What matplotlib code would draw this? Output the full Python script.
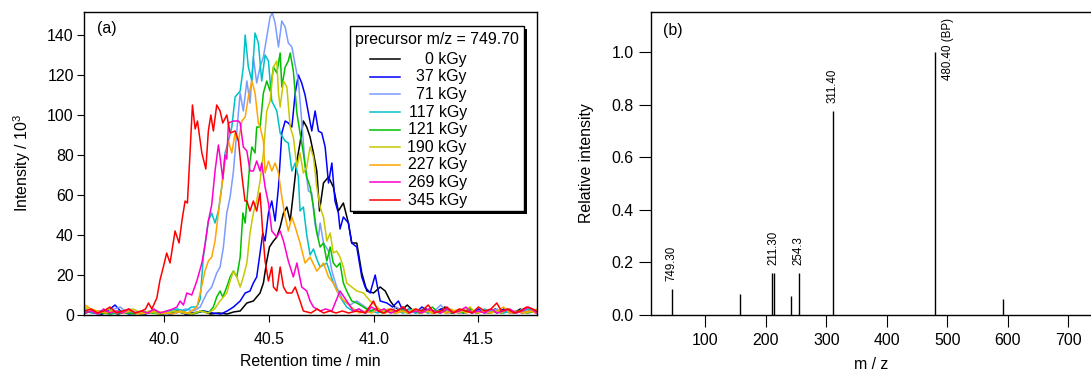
import numpy as np
import matplotlib
matplotlib.use('Agg')
from matplotlib import pyplot as plt
from matplotlib.patches import Rectangle

plt.rcParams['font.family'] = ['Liberation Sans', 'DejaVu Sans']
plt.rcParams['mathtext.fontset'] = 'custom'
plt.rcParams['mathtext.rm'] = 'Liberation Sans'

# (a) extracted ion chromatograms, precursor m/z 749.70: (retention time / min, intensity / 10^3)
k0 = [(39.62, 1), (39.66, 2), (39.70, 0.5), (39.74, 1.5), (39.78, 0.5), (39.82, 2), (39.86, 1), (39.90, 0.5),
      (39.94, 1.5), (39.98, 0.5), (40.02, 1), (40.06, 2), (40.10, 0.5), (40.14, 1), (40.18, 2), (40.22, 0.5),
      (40.26, 1), (40.30, 0.5), (40.33, 1.5), (40.362, 2), (40.394, 6), (40.425, 7), (40.457, 11), (40.473, 16),
      (40.489, 27), (40.502, 34), (40.521, 37), (40.537, 39), (40.553, 44), (40.569, 51), (40.585, 54),
      (40.601, 47), (40.616, 61), (40.633, 77), (40.648, 86), (40.664, 97), (40.680, 94), (40.696, 89),
      (40.712, 81), (40.728, 72), (40.741, 52), (40.760, 66), (40.784, 69), (40.807, 64), (40.831, 52),
      (40.855, 56), (40.879, 46), (40.895, 36), (40.919, 36), (40.943, 21), (40.967, 12), (40.999, 11),
      (41.031, 14), (41.055, 12), (41.079, 7), (41.10, 4), (41.13, 2), (41.16, 5), (41.19, 2), (41.22, 1),
      (41.25, 3), (41.28, 1), (41.31, 2), (41.34, 4), (41.37, 1), (41.40, 2), (41.43, 1), (41.46, 3), (41.49, 1),
      (41.52, 2), (41.55, 1), (41.58, 3), (41.61, 1), (41.64, 2), (41.67, 1), (41.70, 3), (41.73, 1), (41.76, 2),
      (41.78, 1)]
k37 = [(39.62, 2), (39.66, 1), (39.70, 0.5), (39.73, 2), (39.764, 5), (39.79, 2), (39.83, 0.5), (39.87, 1),
       (39.91, 0.5), (39.95, 2), (39.99, 1), (40.03, 0.5), (40.07, 1.5), (40.11, 0.5), (40.15, 1), (40.19, 2),
       (40.23, 1), (40.27, 0.5), (40.30, 2), (40.330, 4), (40.362, 7), (40.386, 11), (40.409, 12), (40.425, 16),
       (40.441, 19), (40.457, 31), (40.470, 41), (40.481, 37), (40.497, 51), (40.513, 57), (40.529, 47),
       (40.545, 64), (40.561, 91), (40.577, 97), (40.592, 96), (40.609, 94), (40.625, 111), (40.640, 120),
       (40.656, 116), (40.672, 110), (40.688, 101), (40.704, 92), (40.720, 102), (40.736, 92), (40.752, 91),
       (40.768, 84), (40.784, 66), (40.800, 76), (40.815, 57), (40.831, 51), (40.839, 43), (40.855, 49),
       (40.879, 46), (40.895, 36), (40.919, 34), (40.943, 19), (40.959, 14), (40.983, 11), (41.007, 20),
       (41.031, 7), (41.063, 6), (41.09, 4), (41.118, 7), (41.14, 2), (41.17, 3), (41.20, 1), (41.23, 4),
       (41.26, 2), (41.29, 1), (41.32, 3), (41.35, 1), (41.38, 2), (41.41, 1), (41.44, 2), (41.47, 1), (41.50, 3),
       (41.53, 1), (41.56, 2), (41.59, 1), (41.62, 3), (41.65, 1), (41.68, 2), (41.71, 1), (41.74, 2), (41.78, 1)]
k71 = [(39.62, 3), (39.65, 1), (39.69, 2), (39.72, 1), (39.76, 3), (39.79, 4), (39.82, 1), (39.86, 2), (39.90, 1),
       (39.94, 2), (39.98, 0.5), (40.02, 2), (40.06, 1), (40.10, 3), (40.14, 2), (40.171, 4), (40.203, 11),
       (40.226, 14), (40.250, 21), (40.266, 24), (40.282, 34), (40.298, 51), (40.314, 59), (40.330, 72),
       (40.346, 92), (40.362, 111), (40.377, 102), (40.394, 117), (40.409, 106), (40.425, 129), (40.441, 116),
       (40.457, 124), (40.473, 129), (40.489, 139), (40.505, 149), (40.516, 151), (40.529, 146), (40.545, 134),
       (40.561, 147), (40.577, 144), (40.592, 136), (40.609, 134), (40.625, 125), (40.640, 117), (40.656, 97),
       (40.672, 75), (40.688, 62), (40.704, 61), (40.720, 45), (40.736, 39), (40.744, 46), (40.760, 36),
       (40.784, 32), (40.800, 22), (40.823, 14), (40.855, 7), (40.887, 5), (40.919, 7), (40.959, 4), (40.99, 2),
       (41.02, 3), (41.05, 1), (41.08, 2), (41.11, 4), (41.14, 1), (41.17, 2), (41.20, 1), (41.23, 3), (41.26, 1),
       (41.29, 2), (41.32, 5), (41.35, 1), (41.38, 2), (41.41, 1), (41.44, 3), (41.47, 1), (41.50, 2), (41.53, 1),
       (41.56, 2), (41.59, 3), (41.62, 1), (41.65, 2), (41.68, 1), (41.71, 3), (41.74, 1), (41.78, 2)]
k117 = [(39.62, 2), (39.66, 1), (39.70, 2), (39.74, 0.5), (39.78, 1), (39.82, 2), (39.86, 1), (39.90, 0.5),
        (39.94, 2), (39.98, 1), (40.02, 2), (40.06, 3), (40.10, 2), (40.13, 4), (40.155, 4), (40.171, 8),
        (40.186, 29), (40.210, 47), (40.226, 51), (40.242, 46), (40.258, 52), (40.274, 64), (40.290, 81),
        (40.306, 87), (40.322, 94), (40.338, 109), (40.362, 112), (40.377, 124), (40.386, 140), (40.401, 124),
        (40.418, 117), (40.433, 141), (40.449, 136), (40.465, 117), (40.481, 130), (40.497, 127), (40.513, 107),
        (40.537, 102), (40.553, 91), (40.577, 87), (40.592, 86), (40.609, 72), (40.625, 76), (40.640, 69),
        (40.648, 52), (40.664, 54), (40.680, 40), (40.696, 30), (40.712, 33), (40.728, 28), (40.744, 24),
        (40.776, 26), (40.807, 16), (40.839, 9), (40.871, 4), (40.90, 2), (40.93, 3), (40.96, 1), (40.99, 2),
        (41.02, 1), (41.05, 3), (41.08, 1), (41.11, 2), (41.14, 1), (41.17, 3), (41.20, 1), (41.23, 2), (41.26, 1),
        (41.29, 2), (41.32, 1), (41.35, 3), (41.38, 1), (41.41, 2), (41.44, 1), (41.47, 2), (41.50, 1), (41.53, 3),
        (41.56, 1), (41.59, 2), (41.62, 1), (41.65, 2), (41.68, 1), (41.71, 2), (41.74, 3), (41.78, 1)]
k121 = [(39.62, 1), (39.66, 2), (39.70, 1), (39.74, 0.5), (39.78, 2), (39.82, 1), (39.86, 0.5), (39.90, 2),
        (39.94, 1), (39.98, 0.5), (40.02, 1), (40.06, 2), (40.10, 1), (40.14, 0.5), (40.18, 2), (40.21, 1),
        (40.234, 4), (40.250, 9), (40.266, 12), (40.279, 9), (40.298, 14), (40.314, 19), (40.330, 22),
        (40.346, 19), (40.362, 29), (40.375, 51), (40.386, 46), (40.394, 57), (40.409, 77), (40.418, 84),
        (40.433, 81), (40.441, 94), (40.457, 94), (40.473, 111), (40.489, 117), (40.505, 112), (40.521, 124),
        (40.537, 121), (40.553, 131), (40.561, 114), (40.577, 124), (40.592, 127), (40.601, 131), (40.616, 122),
        (40.633, 101), (40.648, 91), (40.664, 81), (40.680, 69), (40.696, 64), (40.712, 54), (40.728, 41),
        (40.744, 34), (40.760, 36), (40.776, 27), (40.792, 34), (40.807, 26), (40.823, 24), (40.839, 26),
        (40.855, 16), (40.871, 12), (40.895, 7), (40.919, 6), (40.951, 4), (40.98, 2), (41.01, 3), (41.04, 1),
        (41.07, 2), (41.10, 1), (41.13, 3), (41.16, 1), (41.19, 2), (41.22, 1), (41.25, 2), (41.28, 4), (41.31, 1),
        (41.34, 2), (41.37, 1), (41.40, 2), (41.43, 1), (41.46, 3), (41.49, 1), (41.52, 2), (41.55, 1), (41.58, 2),
        (41.61, 1), (41.64, 3), (41.67, 1), (41.70, 2), (41.73, 1), (41.78, 2)]
k190 = [(39.62, 4), (39.65, 2), (39.69, 1), (39.73, 3), (39.77, 1), (39.81, 2), (39.85, 3), (39.89, 1), (39.93, 2),
        (39.97, 0.5), (40.01, 1), (40.05, 2), (40.09, 1), (40.13, 0.5), (40.17, 2), (40.21, 1), (40.24, 3),
        (40.266, 7), (40.298, 11), (40.314, 17), (40.330, 22), (40.346, 19), (40.362, 14), (40.377, 19),
        (40.394, 26), (40.409, 41), (40.425, 51), (40.441, 57), (40.457, 67), (40.473, 81), (40.489, 102),
        (40.505, 107), (40.521, 124), (40.537, 127), (40.545, 111), (40.553, 104), (40.569, 117), (40.585, 114),
        (40.601, 94), (40.616, 89), (40.633, 74), (40.648, 81), (40.664, 71), (40.680, 74), (40.696, 84),
        (40.712, 79), (40.728, 64), (40.744, 54), (40.760, 49), (40.776, 37), (40.792, 41), (40.807, 31),
        (40.823, 32), (40.839, 29), (40.855, 24), (40.871, 16), (40.895, 14), (40.919, 12), (40.951, 11),
        (40.983, 7), (41.015, 4), (41.04, 2), (41.07, 3), (41.10, 1), (41.13, 2), (41.16, 1), (41.19, 3),
        (41.22, 1), (41.25, 2), (41.28, 1), (41.31, 2), (41.34, 1), (41.37, 3), (41.40, 1), (41.43, 2), (41.46, 4),
        (41.49, 1), (41.52, 2), (41.55, 1), (41.58, 2), (41.61, 1), (41.64, 3), (41.67, 1), (41.70, 2), (41.73, 1),
        (41.78, 3)]
k227 = [(39.62, 5), (39.65, 3), (39.68, 2), (39.72, 1), (39.76, 2), (39.80, 1), (39.84, 2), (39.88, 0.5),
        (39.92, 1), (39.96, 2), (40.00, 1), (40.04, 0.5), (40.08, 2), (40.11, 1), (40.13, 2), (40.155, 4),
        (40.171, 11), (40.194, 22), (40.210, 27), (40.226, 29), (40.242, 37), (40.258, 51), (40.274, 64),
        (40.290, 77), (40.306, 87), (40.322, 81), (40.338, 91), (40.354, 87), (40.370, 97), (40.386, 99),
        (40.401, 109), (40.418, 117), (40.433, 111), (40.449, 96), (40.457, 94), (40.473, 87), (40.481, 71),
        (40.497, 77), (40.513, 72), (40.529, 76), (40.545, 71), (40.561, 59), (40.577, 49), (40.592, 42),
        (40.609, 49), (40.625, 44), (40.648, 36), (40.672, 26), (40.696, 29), (40.728, 22), (40.760, 26),
        (40.784, 19), (40.807, 16), (40.839, 9), (40.871, 6), (40.903, 3), (40.93, 1), (40.96, 2), (40.99, 1),
        (41.02, 3), (41.05, 1), (41.08, 2), (41.11, 1), (41.14, 2), (41.17, 1), (41.20, 3), (41.23, 1), (41.26, 2),
        (41.29, 1), (41.32, 2), (41.35, 1), (41.38, 2), (41.41, 3), (41.44, 1), (41.47, 2), (41.50, 1), (41.53, 2),
        (41.56, 1), (41.59, 2), (41.62, 4), (41.65, 1), (41.68, 2), (41.71, 1), (41.74, 2), (41.78, 1)]
k269 = [(39.62, 1), (39.65, 2), (39.68, 0.5), (39.71, 3), (39.74, 1), (39.77, 2), (39.80, 1), (39.83, 3),
        (39.86, 1), (39.89, 2), (39.92, 1), (39.95, 3), (39.98, 1), (40.01, 2), (40.04, 3), (40.06, 4),
        (40.075, 7), (40.091, 5), (40.107, 11), (40.131, 10), (40.155, 17), (40.179, 26), (40.194, 35),
        (40.210, 47), (40.226, 55), (40.242, 72), (40.258, 85), (40.266, 79), (40.279, 68), (40.290, 80),
        (40.298, 78), (40.306, 96), (40.330, 97), (40.354, 97), (40.362, 96), (40.377, 84), (40.394, 82),
        (40.409, 72), (40.425, 72), (40.441, 77), (40.457, 72), (40.465, 76), (40.481, 64), (40.497, 56),
        (40.513, 42), (40.537, 39), (40.553, 42), (40.569, 37), (40.592, 27), (40.616, 19), (40.633, 26),
        (40.656, 14), (40.680, 12), (40.696, 7), (40.712, 4), (40.744, 2), (40.77, 3), (40.80, 2), (40.839, 12),
        (40.871, 7), (40.903, 2), (40.93, 3), (40.96, 1), (40.99, 4), (41.02, 2), (41.05, 3), (41.08, 1),
        (41.11, 2), (41.14, 4), (41.17, 1), (41.20, 2), (41.23, 1), (41.26, 3), (41.29, 2), (41.32, 1), (41.35, 3),
        (41.38, 1), (41.41, 2), (41.44, 4), (41.47, 1), (41.50, 2), (41.53, 1), (41.56, 3), (41.59, 1), (41.62, 2),
        (41.65, 3), (41.68, 1), (41.71, 2), (41.74, 4), (41.78, 1)]
k345 = [(39.62, 2), (39.65, 3), (39.68, 1), (39.71, 2), (39.74, 4), (39.77, 1), (39.80, 2), (39.83, 3),
        (39.86, 1), (39.89, 2), (39.91, 3), (39.924, 6), (39.94, 3), (39.964, 8.5), (39.979, 17.5), (39.995, 24),
        (40.011, 31), (40.027, 26), (40.051, 42), (40.070, 36), (40.085, 48), (40.099, 57), (40.110, 56),
        (40.122, 80), (40.134, 105), (40.147, 93), (40.158, 97), (40.179, 81), (40.198, 73), (40.210, 92),
        (40.222, 100), (40.234, 92), (40.250, 105), (40.266, 102), (40.279, 96), (40.298, 100), (40.314, 91),
        (40.338, 92), (40.354, 87), (40.370, 70), (40.385, 57), (40.394, 57), (40.409, 52), (40.425, 57),
        (40.441, 52), (40.457, 61), (40.470, 41), (40.481, 27), (40.497, 17), (40.513, 24), (40.521, 14),
        (40.537, 12), (40.553, 24), (40.569, 14), (40.585, 11), (40.609, 11), (40.625, 14), (40.648, 7),
        (40.664, 2), (40.70, 1), (40.73, 3), (40.76, 1), (40.79, 2), (40.82, 1), (40.85, 2), (40.88, 1), (40.92, 2),
        (40.96, 1), (40.999, 7), (41.02, 2), (41.05, 1), (41.08, 3), (41.11, 2), (41.14, 4), (41.17, 1), (41.20, 3),
        (41.23, 2), (41.26, 5), (41.29, 1), (41.32, 2), (41.35, 4), (41.38, 1), (41.41, 3), (41.44, 2), (41.47, 1),
        (41.50, 4), (41.53, 2), (41.56, 3), (41.588, 6), (41.61, 2), (41.64, 3), (41.67, 1), (41.70, 2), (41.73, 4),
        (41.76, 3), (41.78, 2)]

doses = ['0 kGy', '37 kGy', '71 kGy', '117 kGy', '121 kGy', '190 kGy', '227 kGy', '269 kGy', '345 kGy']
traces = [k0, k37, k71, k117, k121, k190, k227, k269, k345]
colors = ['#000000', '#0000ff', '#7b9cff', '#00c0c8', '#00c000', '#c8c800', '#ffa500', '#ff00cc', '#ff0000']

# (b) product ion spectrum
peak_mz = [44.5, 156.9, 211.0, 213.3, 242.1, 254.4, 311.1, 479.9, 592.7]
peak_int = [0.10, 0.08, 0.16, 0.16, 0.071, 0.16, 0.777, 1.0, 0.06]
label_mz = [44.5, 213.3, 254.4, 311.1]
label_int = [0.10, 0.16, 0.16, 0.777]
label_txt = ['749.30', '211.30', '254.3', '311.40']
bp_mz, bp_int, bp_txt = 479.9, 1.0, '480.40 (BP)'

fig = plt.figure(figsize=(10.91, 3.73), dpi=100)
ax1 = fig.add_axes([84 / 1091, 58 / 373, 453 / 1091, 303 / 373])
ax2 = fig.add_axes([650.7 / 1091, 58 / 373, 440.3 / 1091, 303 / 373])

fs = 11.4

# ---- panel (a)
for tr, c in zip(traces, colors):
    arr = np.array(tr)
    ax1.plot(arr[:, 0], arr[:, 1], color=c, lw=1.1)
ax1.set_xlim(39.616, 41.78)
ax1.set_ylim(0, 151.5)
ax1.set_xticks([40.0, 40.5, 41.0, 41.5])
ax1.set_xticklabels(['40.0', '40.5', '41.0', '41.5'])
ax1.set_yticks(np.arange(0, 141, 20))
ax1.tick_params(axis='x', direction='out', length=5, width=0.8, pad=7, labelsize=fs)
ax1.tick_params(axis='y', direction='out', length=5.3, width=0.8, pad=2, labelsize=fs)
for s in ax1.spines.values():
    s.set_linewidth(1.0)
ax1.set_xlabel('Retention time / min', fontsize=fs)
ax1.xaxis.set_label_coords(0.5, -0.13)
ax1.set_ylabel(r'Intensity / 10$^{3}$', fontsize=fs)
ax1.yaxis.set_label_coords(-0.113, 0.5)
ax1.text(0.029, 0.944, '(a)', transform=ax1.transAxes, fontsize=fs, va='center', ha='left')

# legend box drawn Igor-style with solid drop shadow
bx0, bx1, by0, by1 = 0.587, 0.971, 0.344, 0.954
ax1.add_patch(Rectangle((bx0 + 0.0066, by0 - 0.0099), bx1 - bx0, by1 - by0, transform=ax1.transAxes,
                        facecolor='black', edgecolor='none', zorder=10, clip_on=False))
ax1.add_patch(Rectangle((bx0, by0), bx1 - bx0, by1 - by0, transform=ax1.transAxes,
                        facecolor='white', edgecolor='black', lw=1.0, zorder=11, clip_on=False))
ax1.text(0.598, 0.908, 'precursor m/z = 749.70', transform=ax1.transAxes, fontsize=fs,
         va='center', ha='left', zorder=12)
for i, (lab, c) in enumerate(zip(doses, colors)):
    yy = 0.844 - i * 0.0581
    ax1.plot([0.631, 0.698], [yy, yy], transform=ax1.transAxes, color=c, lw=1.1, zorder=12, clip_on=False)
    ax1.text(0.845, yy, lab, transform=ax1.transAxes, fontsize=fs, va='center', ha='right', zorder=12)

# ---- panel (b)
ax2.vlines(peak_mz, 0, peak_int, color='black', lw=1.0)
ax2.set_xlim(9.8, 737.5)
ax2.set_ylim(0, 1.152)
ax2.set_xticks(np.arange(100, 701, 100))
ax2.set_yticks(np.arange(0, 1.01, 0.2))
ax2.yaxis.set_major_formatter(plt.FormatStrFormatter('%.1f'))
ax2.tick_params(axis='x', direction='out', length=8.3, width=0.8, pad=5, labelsize=fs)
ax2.tick_params(axis='y', direction='out', length=8.3, width=0.8, pad=4, labelsize=fs)
for s in ax2.spines.values():
    s.set_linewidth(1.0)
ax2.spines['right'].set_visible(False)
ax2.set_xlabel('m / z', fontsize=fs)
ax2.xaxis.set_label_coords(0.5, -0.14)
ax2.set_ylabel('Relative intensity', fontsize=fs)
ax2.yaxis.set_label_coords(-0.129, 0.5)
ax2.text(0.0286, 0.94, '(b)', transform=ax2.transAxes, fontsize=fs, va='center', ha='left')

for mz, h, txt in zip(label_mz, label_int, label_txt):
    ax2.annotate(txt, xy=(mz, h), xytext=(0, 5.5), textcoords='offset points',
                 rotation=90, ha='center', va='bottom', fontsize=8.3)
ax2.annotate(bp_txt, xy=(bp_mz, bp_int), xytext=(9, 24.5), textcoords='offset points',
             rotation=90, ha='center', va='top', fontsize=8.3)

fig.savefig('out.png', dpi=100)
